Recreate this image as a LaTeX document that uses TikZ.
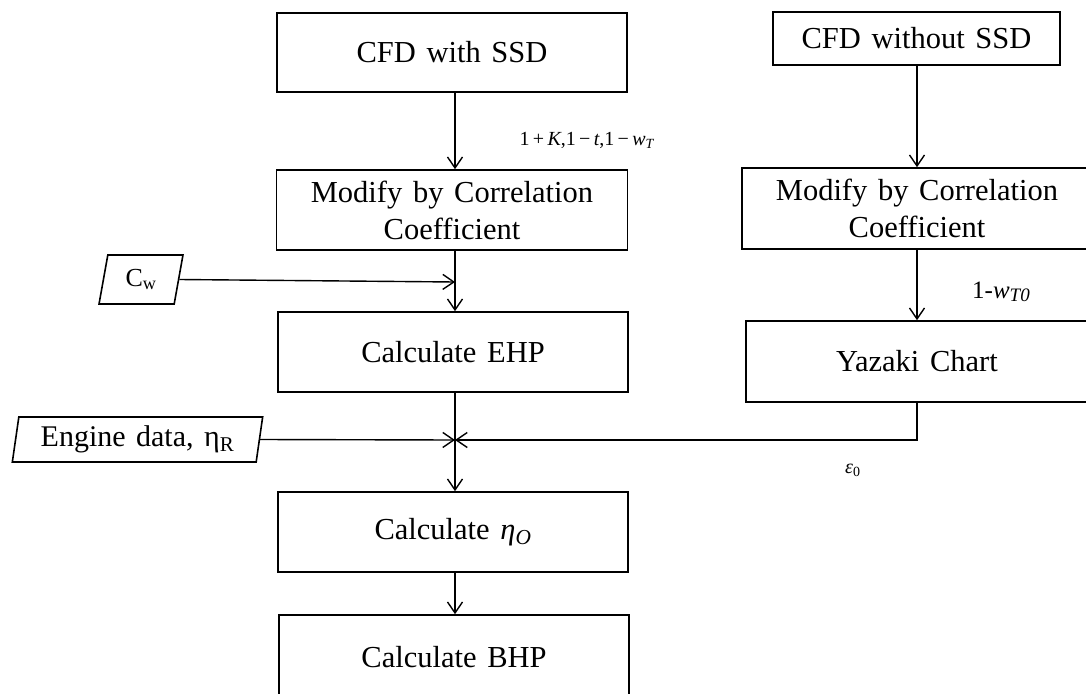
\documentclass[tikz,border=0pt]{standalone}
\usepackage{fontspec}
\setmainfont{Liberation Serif}[WordSpace=1.4]
\usetikzlibrary{arrows.meta,shapes.geometric}
\begin{document}
\begin{tikzpicture}[x=1pt,y=-1pt,
  procbox/.style={draw, line width=1.6pt, rectangle, inner sep=0pt,
    align=center, font=\fontsize{30.5}{37}\selectfont},
  databox/.style={draw, line width=1.6pt, shape=trapezium,
    trapezium left angle=79, trapezium right angle=101,
    trapezium stretches=true, inner sep=0pt,
    font=\fontsize{30}{36}\selectfont},
  arr/.style={line width=1.4pt, -{Straight Barb[length=11pt,width=15pt]}},
  lbl/.style={inner sep=0pt}
]
\useasboundingbox (0,0) rectangle (1086,693);
\clip (0,0) rectangle (1086,693);

% left column: process chain
\node[procbox, minimum width=350pt, minimum height=79pt] (cfd1) at (452,52.5) {CFD with SSD};
\node[procbox, minimum width=351pt, minimum height=80pt] (mod1) at (452,210) {Modify by Correlation\\Coefficient};
\node[procbox, minimum width=350pt, minimum height=80pt] (ehp) at (453,352) {Calculate EHP};
\node[procbox, minimum width=350pt, minimum height=80pt] (eta) at (453,532) {Calculate {\itshape η\textsubscript{O}}};
\node[procbox, minimum width=350pt, minimum height=86pt] (bhp) at (454,658) {\raisebox{3pt}{Calculate BHP}};

% right column: reference case
\node[procbox, minimum width=287pt, minimum height=53pt] (cfd2) at (916.5,38.5) {CFD without SSD};
\node[procbox, minimum width=350pt, minimum height=81pt] (mod2) at (917,208.5) {Modify by Correlation\\Coefficient};
\node[procbox, minimum width=342pt, minimum height=81pt] (yaz) at (917,361.5) {Yazaki Chart};

% input data
\node[databox, minimum width=84pt, minimum height=49pt, font=\fontsize{26}{30}\selectfont] (cw) at (141,279.5) {C\textsubscript{w}};
\node[databox, minimum width=251pt, minimum height=45pt] (engine) at (137.5,439.5) {Engine data, η\textsubscript{R}};

% junction points
\coordinate (j1) at (455,282);
\coordinate (j2) at (455,440);
\coordinate (yk) at (917,440);

% connectors
\draw[arr] (cfd1.south -| j1) -- (mod1.north -| j1);
\draw[arr] (mod1.south -| j1) -- (ehp.north -| j1);
\draw[arr] (cw.east) -- (j1);
\draw[arr] (ehp.south -| j2) -- (eta.north -| j2);
\draw[arr] (engine.east) -- (j2);
\draw[arr] (yaz.south) -- (yk) -- (j2);
\draw[arr] (eta.south -| j2) -- (bhp.north -| j2);
\draw[arr] (cfd2.south -| yk) -- (mod2.north -| yk);
\draw[arr] (mod2.south -| yk) -- (yaz.north -| yk);

% connector labels
\node[lbl, anchor=base east, font=\fontsize{20}{24}\selectfont] (k1) at (655,145)
  {1\,+\,\textit{K},1\,−\,\textit{t},1\,−\,\textit{w}\textsubscript{\textit{T}}};
\node[lbl, anchor=base west, font=\fontsize{25}{30}\selectfont] (w0) at (972,298)
  {1-\textit{w}\raisebox{-0.3ex}{\fontsize{19}{22}\selectfont\textit{T0}}};
\node[lbl, anchor=base west, font=\fontsize{20}{24}\selectfont] (e0) at (845,473)
  {\textit{ε}\textsubscript{0}};
\end{tikzpicture}
\end{document}
